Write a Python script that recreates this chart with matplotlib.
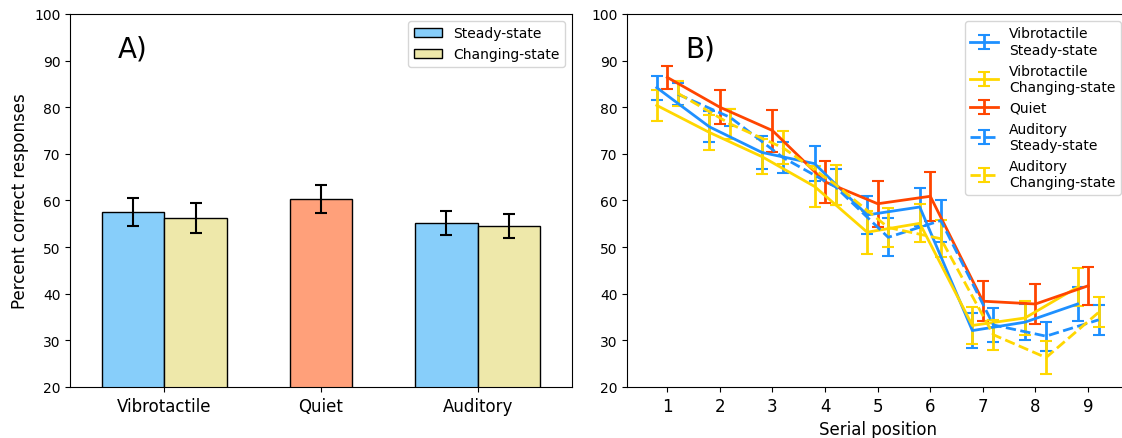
import numpy as np
import matplotlib
matplotlib.use("Agg")
import matplotlib.pyplot as plt

# panel A: overall accuracy per condition
groups = ["Vibrotactile", "Quiet", "Auditory"]
steady = [57.5, 55.2]
steady_err = [2.95, 2.65]
changing = [56.25, 54.5]
changing_err = [3.25, 2.6]
quiet_bar = 60.3
quiet_bar_err = 3.05

# panel B: serial position curves
positions = [1, 2, 3, 4, 5, 6, 7, 8, 9]
vib_ss = [84.2, 75.8, 70.3, 67.9, 56.9, 58.6, 32.1, 33.9, 37.8]
vib_ss_err = [2.6, 3.3, 3.6, 3.8, 4.1, 4.1, 3.8, 3.9, 3.6]
vib_cs = [80.4, 74.6, 69.4, 63.0, 53.2, 55.1, 33.2, 34.8, 41.4]
vib_cs_err = [3.4, 3.7, 3.8, 4.5, 4.6, 4.1, 4.0, 3.7, 4.1]
quiet = [86.4, 80.0, 75.0, 64.0, 59.3, 60.9, 38.4, 37.8, 41.7]
quiet_err = [2.4, 3.6, 4.5, 4.5, 4.9, 5.2, 4.3, 4.3, 4.1]
aud_ss = [82.8, 77.8, 69.2, 62.9, 52.1, 55.7, 33.3, 30.9, 34.4]
aud_ss_err = [2.3, 1.9, 3.3, 3.9, 4.1, 4.5, 3.7, 3.1, 3.2]
aud_cs = [83.0, 76.4, 71.3, 63.4, 54.2, 51.8, 31.2, 26.3, 36.0]
aud_cs_err = [2.7, 3.2, 3.5, 4.3, 4.2, 4.0, 3.2, 3.5, 3.2]

fig = plt.figure(figsize=(11.22, 4.39), dpi=100)
axA = fig.add_axes([0.0627, 0.1162, 0.4468, 0.8497])
axB = fig.add_axes([0.5591, 0.1162, 0.4463, 0.8497])

w = 0.4
ekw = dict(ecolor="black", capsize=4, elinewidth=1.5, capthick=1.5)
axA.bar([0 - w / 2, 2 - w / 2], steady, w, yerr=steady_err, color="lightskyblue",
        edgecolor="black", linewidth=1, label="Steady-state", error_kw=ekw)
axA.bar([0 + w / 2, 2 + w / 2], changing, w, yerr=changing_err, color="palegoldenrod",
        edgecolor="black", linewidth=1, label="Changing-state", error_kw=ekw)
axA.bar([1], [quiet_bar], w, yerr=[quiet_bar_err], color="lightsalmon",
        edgecolor="black", linewidth=1, error_kw=ekw)
axA.set_xticks([0, 1, 2])
axA.set_xticklabels(groups, fontsize=12)
axA.set_xlim(-0.6, 2.6)
axA.set_ylim(20, 100)
axA.set_yticks(range(20, 101, 10))
axA.tick_params(axis="y", labelsize=10)
axA.set_ylabel("Percent correct responses", fontsize=12)
axA.legend(loc="upper right", fontsize=10)
axA.text(0.095, 0.885, "A)", transform=axA.transAxes, fontsize=20, va="baseline")

x = np.array(positions)
eb = dict(capsize=4, elinewidth=2, capthick=1.5, linewidth=2)
axB.errorbar(x - 0.2, vib_ss, yerr=vib_ss_err, color="dodgerblue", linestyle="-",
             label="Vibrotactile\nSteady-state", **eb)
axB.errorbar(x - 0.2, vib_cs, yerr=vib_cs_err, color="gold", linestyle="-",
             label="Vibrotactile\nChanging-state", **eb)
axB.errorbar(x, quiet, yerr=quiet_err, color="orangered", linestyle="-",
             label="Quiet", **eb)
axB.errorbar(x + 0.2, aud_ss, yerr=aud_ss_err, color="dodgerblue", linestyle="--",
             label="Auditory\nSteady-state", **eb)
axB.errorbar(x + 0.2, aud_cs, yerr=aud_cs_err, color="gold", linestyle="--",
             label="Auditory\nChanging-state", **eb)
axB.set_xticks(positions)
axB.tick_params(axis="x", labelsize=12)
axB.tick_params(axis="y", labelsize=10)
axB.set_xlim(0.24, 9.76)
axB.set_ylim(20, 100)
axB.set_yticks(range(20, 101, 10))
axB.set_xlabel("Serial position", fontsize=12)
axB.legend(loc="upper right", fontsize=10)
axB.text(0.115, 0.887, "B)", transform=axB.transAxes, fontsize=20, va="baseline")

fig.savefig("out.png", dpi=100)
